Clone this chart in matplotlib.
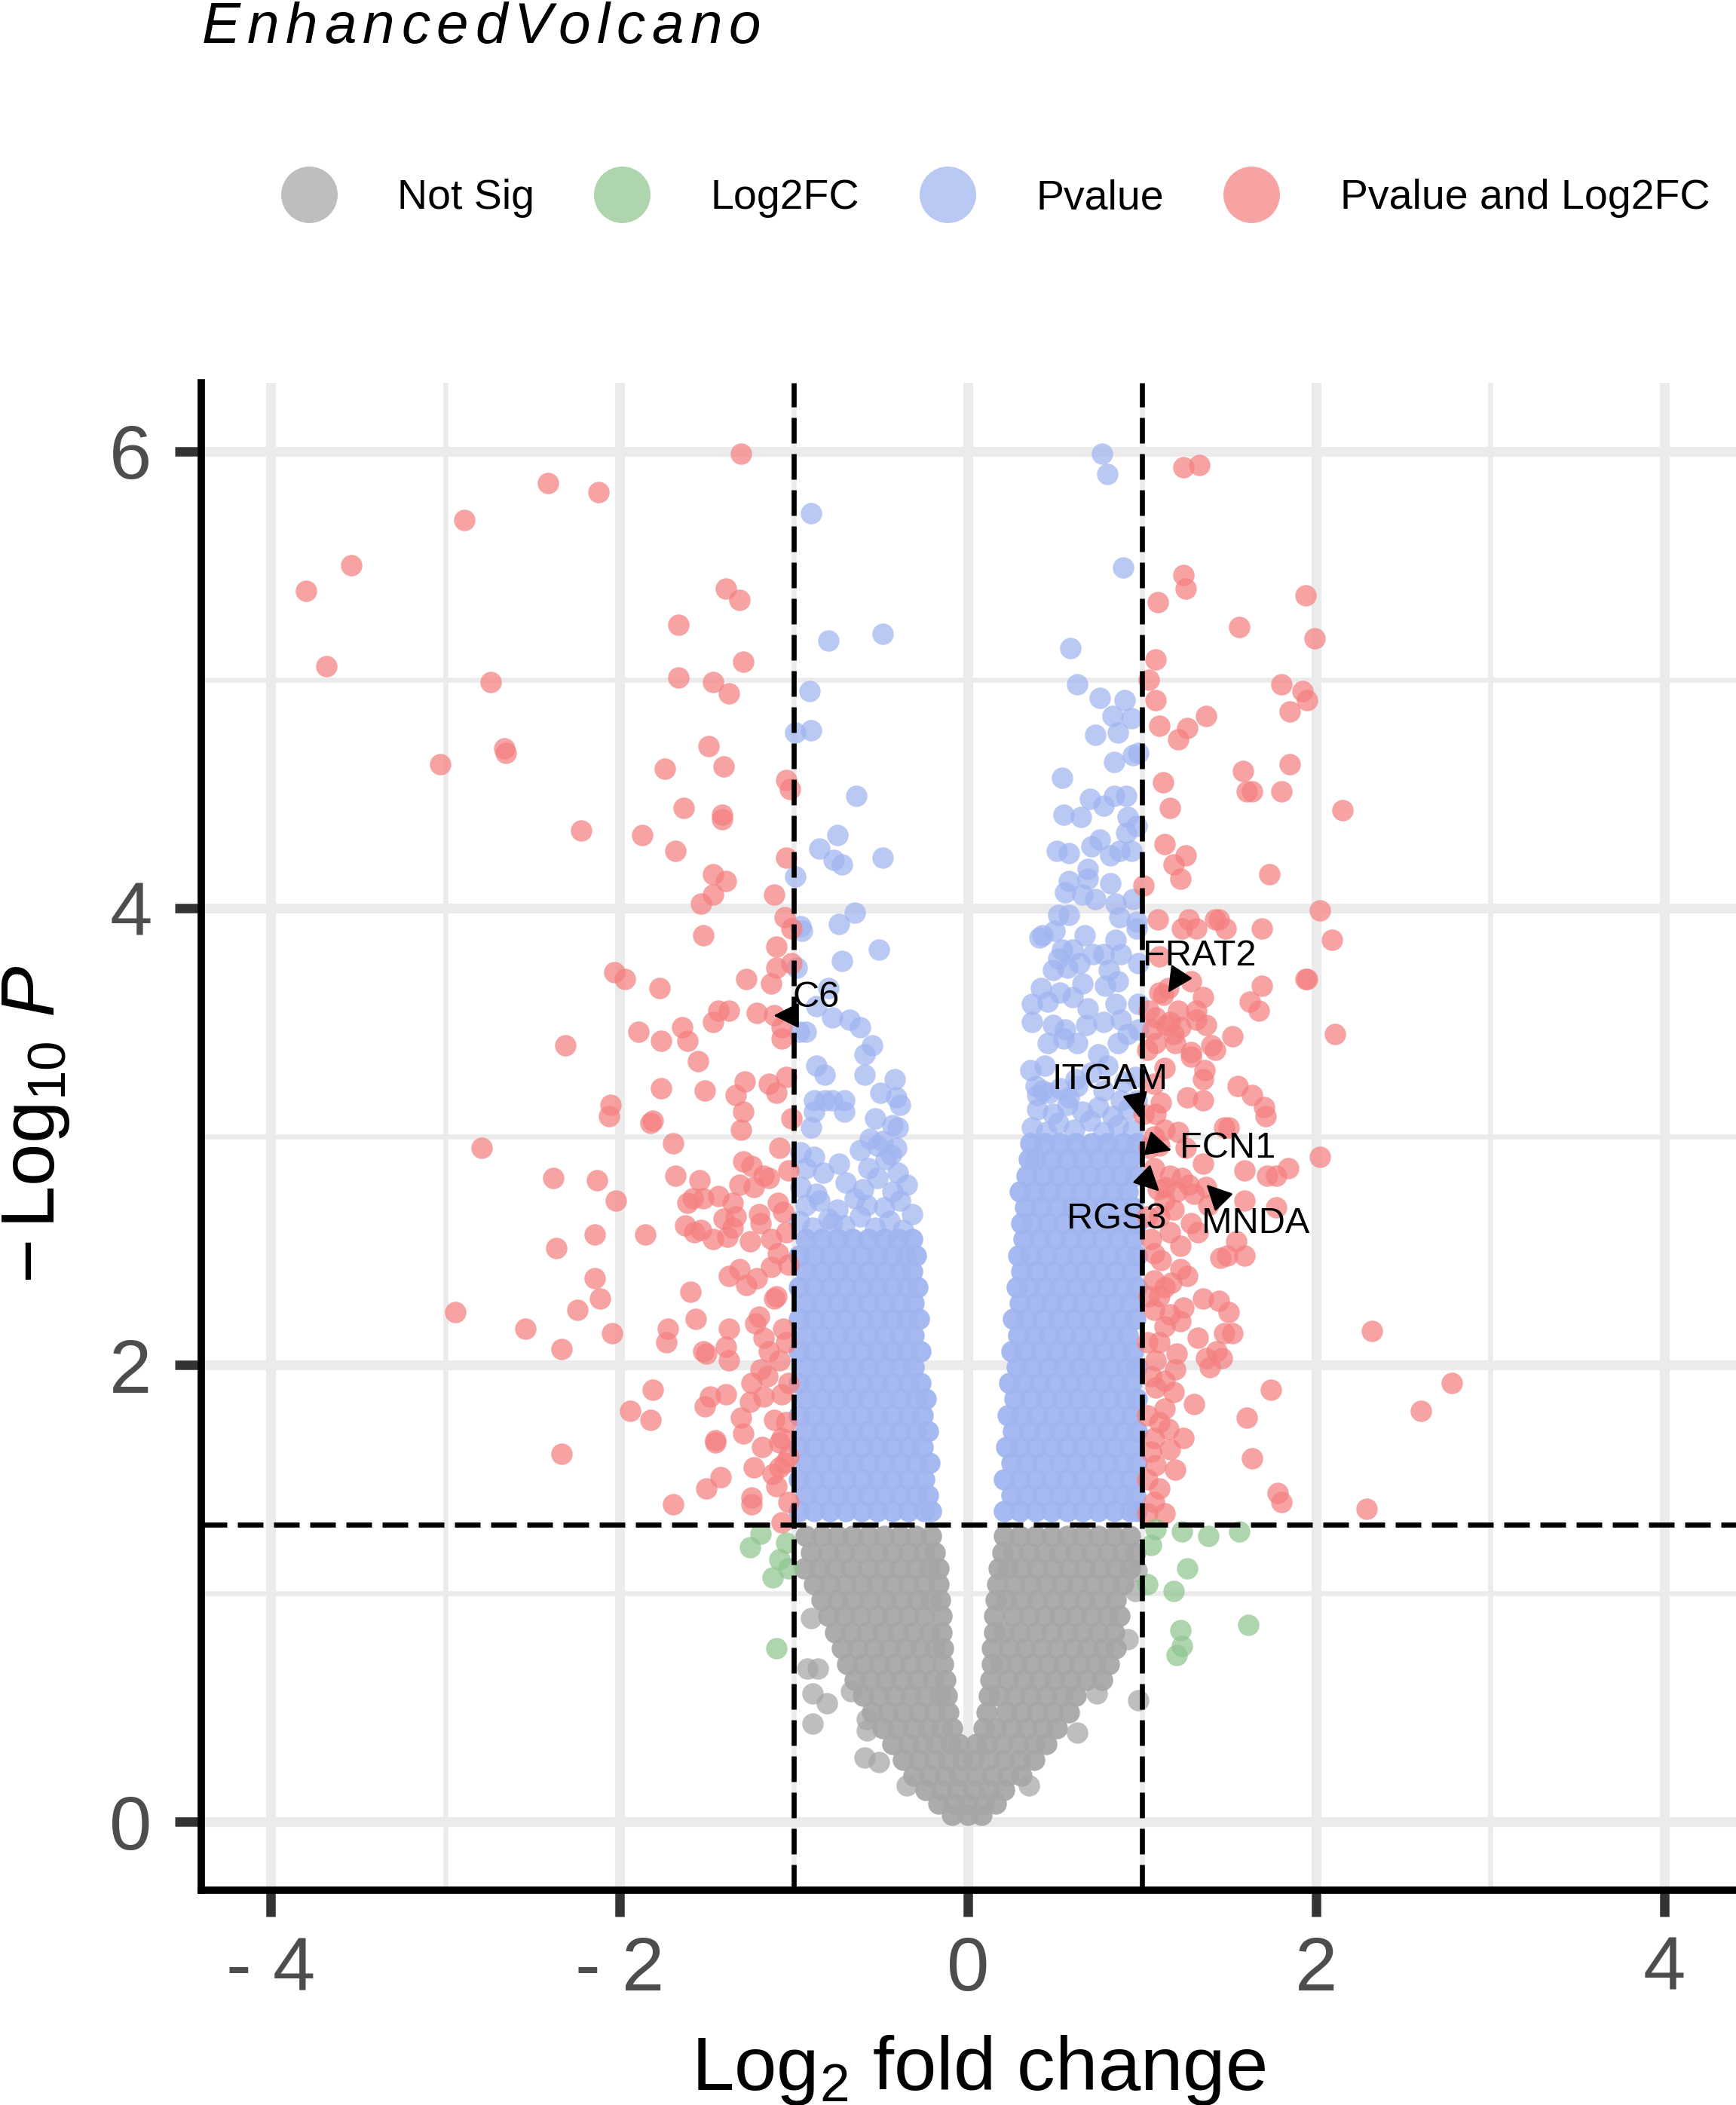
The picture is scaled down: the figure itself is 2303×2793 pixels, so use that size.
import matplotlib
matplotlib.use("Agg")
import matplotlib.pyplot as plt
from matplotlib.lines import Line2D

W, H, DPI = 2303, 2793, 100

plt.rcParams['font.family'] = ['Liberation Sans', 'DejaVu Sans']
plt.rcParams['mathtext.fontset'] = 'custom'
plt.rcParams['mathtext.rm'] = 'Liberation Sans'
plt.rcParams['mathtext.it'] = 'Liberation Sans:italic'
plt.rcParams['mathtext.bf'] = 'Liberation Sans:bold'

# ---------------------------------------------------------------- data
categories = ["Not Sig", "Log2FC", "Pvalue", "Pvalue and Log2FC"]
x_ticks = [-4, -2, 0, 2, 4]
x_tick_labels = ["- 4", "- 2", "0", "2", "4"]
x_minor = [-3, -1, 1, 3]
y_ticks = [0, 2, 4, 6]
y_tick_labels = ["0", "2", "4", "6"]
y_minor = [1, 3, 5]
fc_cut = 1.0
p_cut = 1.30

# Not significant: rows of (-log10 P, [log2FC, ...]) read from the dense grey cone
ns_rows = [
    (1.25, [-0.93, -0.84, -0.75, -0.66, -0.57, -0.48, -0.39, -0.30, -0.21, 0.21, 0.30, 0.39, 0.48, 0.57, 0.66, 0.75, 0.84, 0.93]),
    (1.18, [-0.90, -0.80, -0.71, -0.62, -0.52, -0.43, -0.34, -0.25, -0.19, 0.20, 0.26, 0.35, 0.44, 0.53, 0.62, 0.71, 0.80, 0.89, 0.96]),
    (1.11, [-0.94, -0.85, -0.76, -0.67, -0.57, -0.48, -0.39, -0.30, -0.22, -0.17, 0.18, 0.23, 0.31, 0.40, 0.49, 0.58, 0.67, 0.76, 0.85, 0.93]),
    (1.04, [-0.88, -0.79, -0.70, -0.61, -0.52, -0.43, -0.34, -0.25, -0.17, 0.17, 0.27, 0.36, 0.45, 0.54, 0.63, 0.72, 0.81, 0.89]),
    (0.97, [-0.84, -0.75, -0.66, -0.56, -0.47, -0.38, -0.29, -0.21, -0.16, 0.16, 0.22, 0.31, 0.40, 0.49, 0.58, 0.67, 0.76, 0.85]),
    (0.90, [-0.80, -0.71, -0.62, -0.52, -0.43, -0.34, -0.25, -0.15, 0.15, 0.26, 0.35, 0.44, 0.53, 0.62, 0.71, 0.80, 0.87]),
    (0.83, [-0.76, -0.67, -0.58, -0.49, -0.40, -0.31, -0.22, -0.15, 0.15, 0.21, 0.30, 0.39, 0.48, 0.57, 0.66, 0.75, 0.84]),
    (0.76, [-0.72, -0.63, -0.54, -0.45, -0.36, -0.27, -0.19, -0.14, 0.14, 0.24, 0.33, 0.42, 0.51, 0.60, 0.69, 0.78, 0.85]),
    (0.69, [-0.69, -0.60, -0.51, -0.42, -0.33, -0.24, -0.14, 0.14, 0.19, 0.28, 0.37, 0.46, 0.55, 0.64, 0.73, 0.81]),
    (0.62, [-0.65, -0.56, -0.47, -0.38, -0.29, -0.20, -0.13, 0.13, 0.23, 0.32, 0.41, 0.50, 0.59, 0.68, 0.77]),
    (0.55, [-0.60, -0.51, -0.42, -0.33, -0.24, -0.16, -0.12, 0.12, 0.18, 0.27, 0.36, 0.45, 0.54, 0.62]),
    (0.48, [-0.55, -0.46, -0.37, -0.28, -0.19, -0.11, 0.11, 0.22, 0.31, 0.40, 0.49, 0.58]),
    (0.41, [-0.49, -0.40, -0.31, -0.23, -0.15, -0.09, 0.09, 0.16, 0.25, 0.34, 0.43, 0.51]),
    (0.34, [-0.43, -0.34, -0.26, -0.18, -0.10, -0.05, 0.05, 0.11, 0.20, 0.29, 0.38, 0.45]),
    (0.27, [-0.37, -0.28, -0.19, -0.11, -0.03, 0.03, 0.12, 0.21, 0.30, 0.38]),
    (0.20, [-0.31, -0.22, -0.13, -0.05, 0.05, 0.14, 0.23, 0.31]),
    (0.14, [-0.24, -0.15, -0.06, 0.03, 0.12, 0.21]),
    (0.08, [-0.17, -0.08, 0.00, 0.09, 0.16]),
    (0.03, [-0.09, 0.00, 0.08]),
]
ns_extra_x = [-0.90, -0.92, -0.86, -0.89, -0.81, -0.89, -0.59, -0.51, -0.58, -0.58, -0.67, -0.35,
              0.98, 0.63, 0.74, 0.35, 0.97, 0.96, 0.92]
ns_extra_y = [0.89, 0.67, 0.67, 0.56, 0.52, 0.43, 0.28, 0.26, 0.45, 0.40, 0.57, 0.16,
              0.53, 0.39, 0.56, 0.16, 1.10, 1.01, 0.80]

# Log2FC only (green)
fc_x = [-1.19, -1.25, -1.08, -1.12, -1.04, -1.03, -1.10,
        1.08, 1.23, 1.38, 1.56, 1.05, 1.26, 1.03, 1.18, 1.61, 1.22, 1.23, 1.20]
fc_y = [1.26, 1.20, 1.15, 1.07, 1.22, 1.11, 0.76,
        1.28, 1.27, 1.25, 1.27, 1.21, 1.11, 1.04, 1.01, 0.86, 0.84, 0.77, 0.73]

# Pvalue only (blue): dense rows of the two clouds
p_rows_right = [
    (1.36, [0.21, 0.30, 0.39, 0.48, 0.57, 0.66, 0.75, 0.84, 0.93, 0.97]),
    (1.43, [0.25, 0.34, 0.43, 0.53, 0.62, 0.71, 0.80, 0.89, 0.96]),
    (1.50, [0.21, 0.30, 0.39, 0.48, 0.57, 0.66, 0.75, 0.84, 0.93]),
    (1.57, [0.25, 0.34, 0.43, 0.53, 0.62, 0.71, 0.80, 0.89, 0.97]),
    (1.64, [0.22, 0.30, 0.39, 0.48, 0.57, 0.66, 0.75, 0.84, 0.93]),
    (1.71, [0.26, 0.35, 0.44, 0.53, 0.62, 0.71, 0.80, 0.89, 0.97]),
    (1.78, [0.23, 0.31, 0.40, 0.49, 0.58, 0.67, 0.76, 0.85, 0.94]),
    (1.85, [0.27, 0.36, 0.45, 0.54, 0.63, 0.72, 0.81, 0.90, 0.97]),
    (1.92, [0.24, 0.32, 0.41, 0.50, 0.59, 0.68, 0.77, 0.86, 0.94]),
    (1.99, [0.28, 0.37, 0.46, 0.55, 0.64, 0.73, 0.82, 0.91, 0.97]),
    (2.06, [0.25, 0.33, 0.42, 0.51, 0.60, 0.69, 0.78, 0.87, 0.95]),
    (2.13, [0.29, 0.38, 0.47, 0.56, 0.65, 0.74, 0.83, 0.92]),
    (2.20, [0.26, 0.34, 0.43, 0.52, 0.61, 0.70, 0.79, 0.88, 0.96]),
    (2.27, [0.30, 0.39, 0.48, 0.57, 0.66, 0.75, 0.84, 0.93]),
    (2.34, [0.28, 0.35, 0.44, 0.53, 0.62, 0.71, 0.80, 0.89, 0.97]),
    (2.41, [0.31, 0.40, 0.49, 0.58, 0.67, 0.76, 0.85, 0.94]),
    (2.48, [0.29, 0.36, 0.45, 0.54, 0.63, 0.72, 0.81, 0.90, 0.97]),
    (2.55, [0.32, 0.41, 0.50, 0.59, 0.68, 0.77, 0.86, 0.95]),
    (2.62, [0.31, 0.37, 0.46, 0.55, 0.64, 0.73, 0.82, 0.91, 0.97]),
    (2.69, [0.33, 0.42, 0.51, 0.60, 0.69, 0.78, 0.87, 0.95]),
    (2.76, [0.30, 0.38, 0.47, 0.56, 0.65, 0.74, 0.83, 0.92]),
    (2.83, [0.34, 0.43, 0.52, 0.61, 0.70, 0.79, 0.88, 0.96]),
    (2.90, [0.35, 0.39, 0.48, 0.57, 0.66, 0.75, 0.84, 0.93]),
    (2.97, [0.36, 0.44, 0.53, 0.62, 0.71, 0.80, 0.89, 0.97]),
]
p_rows_left = [
    (1.36, [-0.97, -0.88, -0.79, -0.70, -0.61, -0.52, -0.43, -0.34, -0.25, -0.21]),
    (1.43, [-0.93, -0.84, -0.75, -0.66, -0.57, -0.48, -0.39, -0.30, -0.23]),
    (1.50, [-0.97, -0.88, -0.79, -0.70, -0.61, -0.52, -0.43, -0.34, -0.25]),
    (1.57, [-0.93, -0.84, -0.75, -0.66, -0.57, -0.48, -0.39, -0.30, -0.22]),
    (1.64, [-0.97, -0.88, -0.79, -0.70, -0.61, -0.52, -0.43, -0.34, -0.26]),
    (1.71, [-0.93, -0.84, -0.75, -0.66, -0.57, -0.48, -0.39, -0.30, -0.23]),
    (1.78, [-0.97, -0.88, -0.79, -0.70, -0.61, -0.52, -0.43, -0.34, -0.26]),
    (1.85, [-0.93, -0.84, -0.75, -0.66, -0.57, -0.48, -0.39, -0.30, -0.24]),
    (1.92, [-0.97, -0.88, -0.79, -0.70, -0.61, -0.52, -0.43, -0.34, -0.27]),
    (1.99, [-0.93, -0.84, -0.75, -0.66, -0.57, -0.48, -0.39, -0.31]),
    (2.06, [-0.97, -0.88, -0.79, -0.70, -0.61, -0.52, -0.43, -0.35, -0.27]),
    (2.13, [-0.93, -0.84, -0.75, -0.66, -0.57, -0.48, -0.39, -0.31]),
    (2.20, [-0.97, -0.88, -0.79, -0.70, -0.61, -0.52, -0.43, -0.35, -0.28]),
    (2.27, [-0.93, -0.84, -0.75, -0.66, -0.57, -0.48, -0.39, -0.31]),
    (2.34, [-0.97, -0.88, -0.79, -0.70, -0.61, -0.52, -0.43, -0.35, -0.29]),
    (2.41, [-0.93, -0.84, -0.75, -0.66, -0.57, -0.48, -0.39, -0.32]),
    (2.48, [-0.97, -0.88, -0.79, -0.70, -0.61, -0.52, -0.43, -0.36, -0.30]),
    (2.55, [-0.93, -0.84, -0.75, -0.66, -0.57, -0.48, -0.40, -0.32]),
]
# Pvalue only (blue): looser points at the top of the clouds and scattered above them
p_loose_x = [-0.97, -0.89, -0.80, -0.71, -0.62, -0.53, -0.45, -0.37, -0.93, -0.85, -0.75, -0.65,
             -0.48, -0.39, -0.32, -0.96, -0.87, -0.70, -0.60, -0.52, -0.43, -0.35, -0.93, -0.83,
             -0.74, -0.57, -0.47, -0.40, -0.96, -0.88, -0.62, -0.52, -0.44, -0.78, -0.58,
             0.37, 0.45, 0.52, 0.61, 0.70, 0.78, 0.86, 0.95, 0.40, 0.49, 0.57, 0.66,
             0.75, 0.83, 0.92, 0.97, 0.47, 0.58,
             0.43, 0.53, 0.63, 0.78, 0.88, 0.36, 0.44, 0.80, 0.96, 0.46, 0.55, 0.63,
             0.75, 0.86, 0.92, 0.37, 0.49, 0.56, 0.68, 0.78, 0.88, 0.98, 0.37, 0.46,
             0.60, 0.69, 0.85, 0.98, 0.42, 0.53, 0.66, 0.79, 0.86, 0.81, 0.49, 0.57,
             0.98, 0.54, 0.97, 0.40, 0.62, 0.71, 0.90]
p_loose_y = [2.63, 2.60, 2.64, 2.61, 2.65, 2.60, 2.63, 2.59, 2.70, 2.72, 2.68, 2.73,
             2.69, 2.72, 2.66, 2.78, 2.75, 2.80, 2.77, 2.82, 2.76, 2.79, 2.86, 2.84,
             2.88, 2.86, 2.90, 2.84, 2.93, 2.91, 2.94, 2.96, 2.92, 2.62, 2.70,
             3.04, 3.02, 3.06, 3.03, 3.07, 3.02, 3.05, 3.03, 3.12, 3.10, 3.14, 3.11,
             3.13, 3.09, 3.12, 3.16, 3.19, 3.17,
             3.20, 3.21, 3.22, 3.20, 3.16, 3.29, 3.31, 3.31, 3.26, 3.41, 3.43, 3.41,
             3.36, 3.41, 3.45, 3.50, 3.49, 3.47, 3.49, 3.50, 3.51, 3.47, 3.58, 3.59,
             3.61, 3.56, 3.58, 3.58, 3.65, 3.63, 3.67, 3.66, 3.68, 3.73, 3.73, 3.74,
             3.76, 3.82, 3.94, 3.18, 3.25, 3.28, 3.24]
p_extra_x = [-0.90, -0.80, -0.49, -0.91, -0.90, -0.99, -0.64, -0.75, -0.85, -0.77, -0.72, -0.49,
             -0.99, -0.65, -0.74, -0.96, -0.95, -0.51, -0.72, -0.98, -0.80, -0.87, -0.78, -0.68,
             -0.62, -0.93, -0.97, -0.55, -0.59, -0.87, -0.82, -0.59, -0.42, -0.88, -0.82, -0.78,
             -0.71, -0.50, -0.41, -0.39, -0.88, -0.71, -0.90, -0.53, -0.43, -0.40, -0.56, -0.49, -0.41,
             0.77, 0.80, 0.89, 0.59, 0.63, 0.76, 0.90, 0.83, 0.94, 0.73, 0.86, 0.84, 0.95, 0.98,
             0.54, 0.70, 0.84, 0.91, 0.78, 0.55, 0.65, 0.92, 0.97, 0.91, 0.76, 0.71, 0.51, 0.58,
             0.87, 0.94, 0.82, 0.69, 0.58, 0.82, 0.69, 0.56, 0.73, 0.66, 0.95, 0.85, 0.87, 0.52,
             0.58, 0.97, 0.41, 0.50, 0.67, 0.85, 0.43, 0.60, 0.72, 0.78, 0.88, 0.52, 0.64, 0.39]
p_extra_y = [5.73, 5.17, 5.20, 4.95, 4.78, 4.77, 4.49, 4.32, 4.26, 4.21, 4.19, 4.22,
             4.14, 3.98, 3.93, 3.92, 3.90, 3.82, 3.77, 3.74, 3.65, 3.57, 3.52, 3.51,
             3.48, 3.46, 3.46, 3.40, 3.36, 3.31, 3.27, 3.27, 3.25, 3.16, 3.16, 3.16,
             3.16, 3.19, 3.17, 3.14, 3.11, 3.11, 3.04, 3.08, 3.05, 3.04, 2.99, 2.98, 2.95,
             5.99, 5.90, 5.49, 5.14, 4.98, 4.92, 4.91, 4.84, 4.83, 4.76, 4.77, 4.64, 4.67, 4.68,
             4.57, 4.48, 4.49, 4.49, 4.45, 4.41, 4.40, 4.40, 4.36, 4.33, 4.30, 4.27, 4.25, 4.24,
             4.25, 4.25, 4.23, 4.17, 4.12, 4.11, 4.13, 4.07, 4.04, 4.06, 4.04, 4.02, 3.96, 3.97,
             3.97, 3.91, 3.87, 3.90, 3.88, 3.86, 3.88, 3.82, 3.80, 3.80, 3.80, 3.78, 3.76, 3.22]

# Pvalue and Log2FC (red)
both_x = [-1.30, -2.41, -2.12, -2.89, -3.54, -3.80, -3.68, -1.39, -1.31, -1.66, -1.29, -1.66,
          -1.46, -1.37, -2.74, -1.49, -1.74, -1.40, -3.03, -2.65, -2.66, -1.04, -1.02, -1.63,
          -1.41, -1.41, -2.22, -1.87, -1.68, -1.04, -1.46, -1.39, -1.11, -1.46, -1.53, -1.05,
          -1.01, -1.52, -1.10, -1.10, -1.01, -2.03, -1.97, -1.77, -1.27, -1.13, -1.21, -1.43,
          -1.37, -1.46, -1.89, -1.76, -1.64, -1.61, -2.31, -1.07, -1.07, -1.11,
          -1.55, -1.76, -1.51, -1.28, -1.14, -1.10, -1.04, -1.33, -1.29, -2.05, -2.06, -1.82,
          -1.81, -1.30, -1.01, -2.79, -1.69, -1.29, -1.24, -1.17, -1.14, -1.31, -1.23, -1.68,
          -1.54, -2.38, -2.13, -2.02, -1.43, -1.58, -1.61, -1.52, -1.35, -1.09, -1.06, -1.40,
          -1.33, -1.20, -1.19, -1.62, -1.57, -1.53, -1.35, -1.38, -1.46, -1.85, -2.14, -2.36,
          -1.25, -1.13, -1.09, -1.13, -1.03, -1.37, -1.31, -1.27, -1.21, -2.14, -1.59, -2.11,
          -1.11, -2.94, -2.24, -2.54, -2.33, -2.04, -1.72, -1.73, -1.56, -1.37, -1.39, -1.52,
          -1.50, -1.37, -1.20, -1.22, -1.17, -1.06, -1.14, -1.08, -1.04, -1.19, -1.81, -1.94,
          -1.82, -1.48, -1.51, -1.39, -1.24, -1.25, -1.17, -1.07, -1.30, -1.11, -1.29, -1.45,
          -1.45, -2.33, -1.18, -1.08, -1.23, -1.08, -1.42, -1.50, -1.10, -1.69, -1.24, -1.24,
          -1.07, -1.03, -1.05, -1.07, -1.03, -1.12, -1.04, -1.15, -1.03, -1.10, -1.04, -1.03, -1.08,
          1.24, 1.33, 1.24, 1.25, 1.09, 1.94, 1.56, 1.99, 1.08, 1.04, 1.80, 1.92,
          1.95, 1.08, 1.85, 1.10, 1.26, 1.37, 1.21, 1.58, 1.85, 1.12, 1.60, 1.63,
          1.80, 2.15, 1.16, 1.13, 1.25, 1.18, 1.22, 1.73, 1.01, 2.02, 1.09, 1.27,
          1.42, 1.44, 1.48, 1.31, 1.23, 1.69, 2.09, 1.10, 1.28, 1.10, 1.35, 1.69,
          1.94, 1.95, 1.62, 1.67, 1.21, 1.31, 1.31, 1.37, 1.08, 1.06, 1.18, 1.52,
          2.11, 1.40, 1.28, 1.15, 1.22, 1.16, 1.19, 1.08, 1.14,
          1.42, 1.28, 1.36, 1.35, 1.55, 1.63, 1.70, 1.71, 1.26, 1.35, 1.11, 1.07,
          1.13, 1.47, 1.50, 1.13, 1.21, 1.07, 2.02, 1.59, 1.72, 1.77, 1.84, 1.07,
          1.16, 1.23, 1.27, 1.30, 1.13, 1.20, 1.59, 1.77, 1.13, 1.32, 1.16, 1.22,
          1.54, 1.45, 1.49, 1.59, 1.07, 1.11, 1.22, 1.26, 1.17, 1.07, 1.13, 1.35,
          1.44, 1.50, 1.47, 1.52, 1.43, 1.46, 1.07, 1.16, 1.24, 1.22, 1.13, 1.32,
          1.39, 1.37, 1.08, 1.19, 1.13, 2.32, 2.78, 2.60, 1.74, 1.30, 1.60, 1.24,
          1.63, 1.78, 1.80, 2.29, 1.08, 1.13, 1.10, 1.07, 1.16, 1.08, 1.19, 1.10,
          1.07, 1.13, 1.03, 1.01, 1.10, 1.09, 1.37,
          1.03, 1.05, 1.03, 1.05, 1.03, 1.10, 1.04, 1.05, 1.03, 1.10, 1.04, 1.08,
          1.03, 1.15, 1.18, 1.20, 1.10, 1.28, 1.18, 1.25, 1.35, 1.38, 1.04, 1.12]
both_y = [5.99, 5.86, 5.82, 5.70, 5.50, 5.39, 5.06, 5.40, 5.35, 5.24, 5.08, 5.01,
          4.99, 4.94, 4.99, 4.71, 4.61, 4.62, 4.63, 4.68, 4.70, 4.56, 4.52, 4.44,
          4.39, 4.41, 4.34, 4.32, 4.25, 4.22, 4.15, 4.12, 4.06, 4.06, 4.02, 3.96,
          3.91, 3.88, 3.83, 3.74, 3.76, 3.72, 3.69, 3.65, 3.69, 3.67, 3.54, 3.55,
          3.55, 3.50, 3.46, 3.42, 3.48, 3.42, 3.40, 3.48, 3.43, 3.53,
          3.33, 3.21, 3.20, 3.24, 3.23, 3.19, 3.26, 3.18, 3.11, 3.14, 3.09, 3.06,
          3.07, 3.03, 3.08, 2.95, 2.97, 2.89, 2.87, 2.83, 2.82, 2.79, 2.78, 2.83,
          2.81, 2.82, 2.81, 2.72, 2.74, 2.73, 2.71, 2.73, 2.71, 2.71, 2.67, 2.64,
          2.65, 2.66, 2.62, 2.61, 2.58, 2.59, 2.60, 2.56, 2.55, 2.57, 2.57, 2.51,
          2.54, 2.55, 2.49, 2.43, 2.44, 2.39, 2.42, 2.35, 2.38, 2.38, 2.32, 2.29,
          2.29, 2.23, 2.24, 2.16, 2.07, 2.14, 2.16, 2.10, 2.20, 2.16, 2.08, 2.06,
          2.05, 2.02, 2.21, 2.18, 2.12, 2.16, 2.06, 2.02, 2.10, 1.98, 1.89, 1.80,
          1.76, 1.86, 1.82, 1.87, 1.92, 1.84, 1.86, 1.87, 1.77, 1.76, 1.70, 1.66,
          1.67, 1.61, 1.64, 1.66, 1.55, 1.55, 1.51, 1.46, 1.47, 1.39, 1.42, 1.39,
          1.31, 1.60, 1.57, 1.68, 1.40, 1.52, 1.75, 1.95, 1.92, 2.30, 2.58, 2.85, 2.95,
          5.93, 5.94, 5.46, 5.40, 5.34, 5.37, 5.23, 5.18, 5.09, 5.00, 4.98, 4.95,
          4.91, 4.91, 4.86, 4.80, 4.79, 4.84, 4.74, 4.60, 4.63, 4.55, 4.51, 4.51,
          4.51, 4.43, 4.44, 4.28, 4.23, 4.19, 4.13, 4.15, 4.10, 3.99, 3.95, 3.95,
          3.95, 3.95, 3.91, 3.91, 3.91, 3.91, 3.86, 3.79, 3.68, 3.63, 3.61, 3.66,
          3.69, 3.69, 3.59, 3.55, 3.55, 3.55, 3.51, 3.49, 3.52, 3.47, 3.45, 3.44,
          3.45, 3.40, 3.37, 3.65, 3.48, 3.50, 3.41, 3.41, 3.49,
          3.38, 3.35, 3.29, 3.25, 3.22, 3.18, 3.13, 3.09, 3.17, 3.16, 3.15, 3.23,
          3.30, 3.04, 3.04, 3.03, 3.02, 3.00, 2.91, 2.85, 2.83, 2.83, 2.86, 2.86,
          2.83, 2.82, 2.79, 2.75, 2.78, 2.76, 2.72, 2.69, 2.72, 2.58, 2.58, 2.52,
          2.54, 2.47, 2.48, 2.48, 2.49, 2.46, 2.42, 2.39, 2.36, 2.37, 2.34, 2.29,
          2.28, 2.23, 2.14, 2.14, 2.06, 2.03, 2.24, 2.22, 2.25, 2.19, 2.17, 2.12,
          1.99, 2.03, 2.02, 1.98, 1.93, 2.15, 1.92, 1.80, 1.89, 1.83, 1.77, 1.68,
          1.59, 1.44, 1.40, 1.37, 1.90, 1.81, 1.75, 1.68, 1.63, 1.56, 1.54, 1.46,
          1.40, 1.35, 1.35, 3.10, 2.96, 2.77, 2.78,
          1.50, 1.62, 1.78, 1.95, 2.10, 2.10, 2.30, 2.55, 2.65, 2.65, 2.95, 3.10,
          3.38, 1.72, 1.88, 2.05, 2.30, 2.62, 2.68, 2.95, 2.88, 2.70, 3.55, 3.62]

# labelled genes: name, text position (log2FC, -log10 P), arrow base, arrow tip
gene_names = ["C6", "FRAT2", "ITGAM", "FCN1", "RGS3", "MNDA"]
gene_text_x = [-0.87, 1.33, 0.815, 1.49, 0.853, 1.65]
gene_text_y = [3.61, 3.79, 3.25, 2.95, 2.64, 2.62]
arrow_base_x = [-1.00, 1.21, 0.965, 1.08, 1.02, 1.46]
arrow_base_y = [3.53, 3.70, 3.17, 2.96, 2.82, 2.72]
arrow_tip_x = [-1.115, 1.15, 0.99, 1.17, 1.10, 1.37]
arrow_tip_y = [3.53, 3.63, 3.08, 2.94, 2.76, 2.79]

# ---------------------------------------------------------------- assemble
ns_dense_x = [x for y, xs in ns_rows for x in xs]
ns_dense_y = [y for y, xs in ns_rows for x in xs]
p_dense_x = [x for y, xs in p_rows_right + p_rows_left for x in xs]
p_dense_y = [y for y, xs in p_rows_right + p_rows_left for x in xs]
p_x = p_loose_x + p_extra_x
p_y = p_loose_y + p_extra_y

col_ns = "#a6a6a6"
col_fc = "#90c590"
col_p = "#a0b4f0"
col_both = "#f58080"
ALPHA = 0.72
ALPHA_DENSE = 0.93
S = 420

fig = plt.figure(figsize=(W / DPI, H / DPI), dpi=DPI)
ax = fig.add_axes([267 / W, 1 - 2508 / H, (W - 267) / W, 2000 / H])
ax.set_xlim(-4.40, 4.41)
ax.set_ylim(-0.30, 6.30)
ax.set_axisbelow(True)

ax.scatter(p_dense_x, p_dense_y, s=S, c=col_p, alpha=ALPHA_DENSE, linewidths=0, zorder=2)
ax.scatter(p_x, p_y, s=S, c=col_p, alpha=ALPHA, linewidths=0, zorder=2)
ax.scatter(both_x, both_y, s=S, c=col_both, alpha=ALPHA, linewidths=0, zorder=2)
ax.scatter(ns_dense_x, ns_dense_y, s=S, c=col_ns, alpha=ALPHA_DENSE, linewidths=0, zorder=2)
ax.scatter(ns_extra_x, ns_extra_y, s=S, c=col_ns, alpha=ALPHA, linewidths=0, zorder=2)
ax.scatter(fc_x, fc_y, s=S, c=col_fc, alpha=ALPHA, linewidths=0, zorder=2)

for v in (-fc_cut, fc_cut):
    ax.axvline(v, color="black", lw=4.8, dashes=(5.1, 2.1), zorder=4)
ax.axhline(p_cut, color="black", lw=4.8, dashes=(5.1, 2.1), zorder=4)

for i, name in enumerate(gene_names):
    ax.annotate("", xy=(arrow_tip_x[i], arrow_tip_y[i]),
                xytext=(arrow_base_x[i], arrow_base_y[i]),
                arrowprops=dict(arrowstyle="-|>,head_length=0.5,head_width=0.25",
                                color="black", lw=2, shrinkA=0, shrinkB=0,
                                mutation_scale=42), zorder=6)
    ax.text(gene_text_x[i], gene_text_y[i], name, fontsize=35, ha="center",
            va="center", color="black", zorder=7)

ax.set_xticks(x_ticks)
ax.set_xticklabels(x_tick_labels)
ax.set_yticks(y_ticks)
ax.set_yticklabels(y_tick_labels)
ax.set_xticks(x_minor, minor=True)
ax.set_yticks(y_minor, minor=True)
ax.grid(which="major", color="#ebebeb", lw=9.4)
ax.grid(which="minor", color="#ebebeb", lw=4.7)
ax.tick_params(which="minor", length=0)
ax.tick_params(which="major", direction="out", length=25, width=9,
               color="#333333", labelsize=73, labelcolor="#4d4d4d")
ax.tick_params(axis="x", pad=18)
ax.tick_params(axis="y", pad=22)
for s in ("top", "right"):
    ax.spines[s].set_visible(False)
for s in ("left", "bottom"):
    ax.spines[s].set_linewidth(7)
    ax.spines[s].set_color("black")

# axis titles
fig.text(1298 / W, 1 - 2773 / H, r"$\mathrm{Log}_{2}$ fold change", fontsize=73,
         ha="center", va="baseline")
fig.text(48 / W, 1 - 1492 / H, r"$-\,\mathrm{Log}_{10}\ \mathit{P}$", fontsize=73,
         rotation=90, ha="center", va="center")

# legend
handles = [Line2D([], [], ls="", marker="o", ms=54, mew=0, mfc=c, alpha=ALPHA)
           for c in (col_ns, col_fc, col_p, col_both)]
fig.legend(handles, categories, loc="center left", bbox_to_anchor=(354 / W, 1 - 263 / H),
           ncol=4, frameon=False, fontsize=40, handlelength=2.0, handletextpad=1.11,
           columnspacing=1.10, borderpad=0, borderaxespad=0)

# title (letter-spaced italic)
renderer = fig.canvas.get_renderer()
xpos = 268
for ch in "EnhancedVolcano":
    t = fig.text(xpos / W, 1 - 57 / H, ch, fontsize=55, style="italic",
                 ha="left", va="baseline")
    xpos += t.get_window_extent(renderer).width + 8.6

fig.savefig("out.png", dpi=DPI)
